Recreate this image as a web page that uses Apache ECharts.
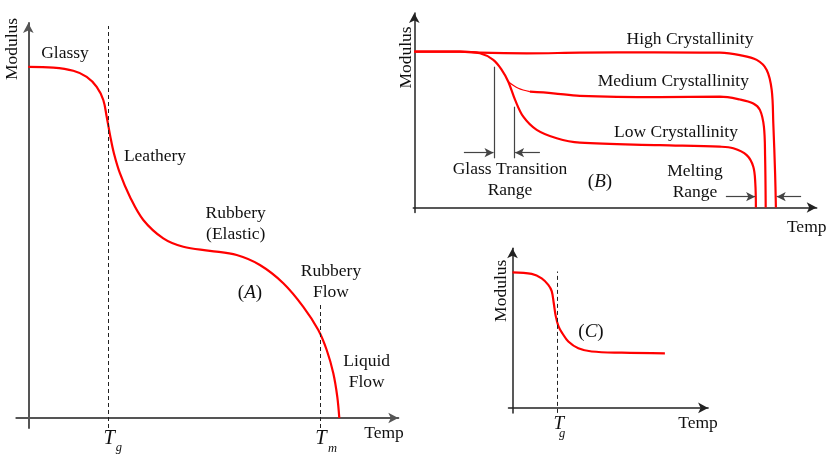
<!DOCTYPE html>
<html>
<head>
<meta charset="utf-8">
<script src="https://cdn.jsdelivr.net/npm/echarts@6/dist/echarts.min.js"></script>
<style>
  html, body { margin: 0; padding: 0; background: #fff; }
  #chart { width: 828px; height: 454px; }
</style>
</head>
<body>
<div id="chart"></div>
<script>
// (A) modulus vs temperature of an amorphous polymer (relative units)
const tempA    = [0, 6.25, 11.25, 14.6, 17.1, 18.75, 19.6, 20.5, 21.4, 22.9, 25.4, 28.75, 33.75, 38.75, 45.4, 52.1, 57.9, 63.75, 68.75, 72.5, 74.6, 76.25, 77.25, 77.75];
const modulusA = [87.8, 87.6, 86.8, 85.3, 82.8, 79.5, 75.3, 70.4, 66.2, 61.2, 55.3, 49.5, 44.9, 42.8, 41.8, 40.75, 38.25, 33.7, 27.8, 22.0, 17.0, 11.2, 5.3, 0];
const TgA = 20;
const TmA = 72.9;

// (B) effect of crystallinity
const tempHigh    = [0, 11.4, 16.4, 28.1, 41.4, 60, 76.4, 81.4, 85.6, 88.1, 89.35, 89.75, 90.2, 90.4];
const modulusHigh = [38.95, 38.95, 38.7, 38.55, 38.7, 38.8, 38.7, 38.1, 36.9, 34.4, 29.4, 21.05, 8.55, 0];
const tempMedium    = [23.5, 26, 28.9, 34.75, 41.4, 61.4, 76.4, 81.4, 84.75, 86.4, 87.4, 87.7, 87.85];
const modulusMedium = [31.45, 29.8, 28.95, 28.55, 27.9, 27.6, 27.7, 27.0, 26.0, 24.4, 20.2, 12.7, 0];
const tempLow    = [0, 11.4, 16.4, 19.75, 21.85, 23.5, 25.2, 27.25, 30.6, 35.6, 41.4, 61.4, 76.4, 79.75, 83.1, 84.75, 85.25, 85.4];
const modulusLow = [38.95, 38.95, 38.55, 36.9, 34.4, 31.45, 26.9, 22.7, 19.4, 17.3, 16.2, 15.6, 15.2, 14.8, 13.1, 10.2, 6.05, 0];
const glassRange   = [20, 25];      // glass transition range bounds
const meltingRange = [85.4, 90.4];  // melting range bounds

// (C) cross-linked polymer
const tempC    = [0, 4.8, 7.3, 8.95, 9.8, 10.3, 10.8, 11.5, 12.5, 13.95, 16.45, 19.8, 27.3, 38.1];
const modulusC = [33.9, 33.5, 32.4, 30.75, 29.2, 26.3, 23.0, 20.4, 18.6, 16.6, 14.9, 14.1, 13.8, 13.65];
const TgC = 11.3;

const FONT = '"Liberation Serif","Times New Roman",serif';
const RED = '#ff0000';
const zip = (xs, ys) => xs.map((x, i) => [x, ys[i]]);

function xAxisFor(gridIndex, min, max, color, width) {
  return {
    type: 'value', gridIndex, min, max,
    splitLine: { show: false },
    axisTick: { show: false },
    axisLabel: { show: false },
    axisLine: { onZero: true, symbol: ['none', 'arrow'], symbolSize: [8, 10],
                lineStyle: { color, width } }
  };
}
const yAxisFor = xAxisFor;

function curve(name, xi, data, width) {
  return {
    name, type: 'line', xAxisIndex: xi, yAxisIndex: xi,
    data, smooth: 0.35, symbol: 'none', clip: false,
    lineStyle: { color: RED, width: width }
  };
}

const dash = { type: [4, 3], color: '#222', width: 1 };
const guide = { color: '#444', width: 1.2, type: 'solid' };

function arrowLine(x0, x1, y) {
  return [{ coord: [x0, y], symbol: 'none' }, { coord: [x1, y], symbol: 'arrow', symbolSize: [7, 9] }];
}
function vLine(x, y0, y1) {
  return [{ coord: [x, y0], symbol: 'none' }, { coord: [x, y1], symbol: 'none' }];
}

function text(str, x, y, opts) {
  opts = opts || {};
  return {
    type: 'text', x, y, silent: true, rotation: opts.rotation || 0,
    style: {
      text: str, fill: '#111', fontFamily: FONT, fontSize: opts.size || 17.5,
      fontStyle: opts.italic ? 'italic' : 'normal',
      align: opts.align || 'center', verticalAlign: 'middle', lineHeight: 21
    }
  };
}
function tagged(letter, x, y) {
  return {
    type: 'text', x, y, silent: true,
    style: {
      text: '{p|(}{a|' + letter + '}{p|)}', align: 'center', verticalAlign: 'middle',
      rich: {
        p: { fontFamily: FONT, fontSize: 19, fill: '#111' },
        a: { fontFamily: FONT, fontSize: 19, fontStyle: 'italic', fill: '#111' }
      }
    }
  };
}

const option = {
  animation: false,
  backgroundColor: '#fff',
  grid: [
    { left: 16.3, top: 23, width: 382, height: 405, outerBoundsMode: 'none' },
    { left: 413.3, top: 13, width: 403.4, height: 199.5, outerBoundsMode: 'none' },
    { left: 508.5, top: 248.3, width: 199.6, height: 164.6, outerBoundsMode: 'none' }
  ],
  xAxis: [
    xAxisFor(0, -3, 92.5, '#555', 2),
    xAxisFor(1, -0.25, 100.6, '#222', 1.5),
    xAxisFor(2, -1, 48.9, '#222', 1.5)
  ],
  yAxis: [
    yAxisFor(0, -2.5, 98.75, '#555', 2),
    yAxisFor(1, -1.25, 48.625, '#222', 1.5),
    yAxisFor(2, -1.25, 39.9, '#222', 1.5)
  ],
  series: [
    Object.assign(curve('A', 0, zip(tempA, modulusA), 2.2), {
      markLine: {
        silent: true, symbol: 'none', label: { show: false }, lineStyle: dash,
        data: [vLine(TgA, -2.5, 98), vLine(TmA, -2.5, 29)]
      }
    }),
    curve('High Crystallinity', 1, zip(tempHigh, modulusHigh), 2.2),
    curve('Medium Crystallinity', 1, zip(tempMedium, modulusMedium).slice(0, 3), 1.2),
    curve('Medium Crystallinity', 1, zip(tempMedium, modulusMedium).slice(2), 2.2),
    Object.assign(curve('Low Crystallinity', 1, zip(tempLow, modulusLow), 2.2), {
      markLine: {
        silent: true, label: { show: false }, lineStyle: guide,
        data: [
          vLine(glassRange[0], 12.3, 35.2),
          vLine(glassRange[1], 12.3, 25.2),
          arrowLine(12.4, glassRange[0] - 0.2, 13.7),
          arrowLine(31.4, glassRange[1] + 0.2, 13.7),
          arrowLine(77.9, meltingRange[0] - 0.2, 2.7),
          arrowLine(96.7, meltingRange[1] + 0.2, 2.7)
        ]
      }
    }),
    Object.assign(curve('C', 2, zip(tempC, modulusC), 2.2), {
      markLine: {
        silent: true, symbol: 'none', label: { show: false }, lineStyle: dash,
        data: [vLine(TgC, -1.25, 34.1)]
      }
    })
  ]
};

const chart = echarts.init(document.getElementById('chart'), null, { renderer: 'canvas' });
chart.setOption(option);

// T_g / T_m labels placed under their temperatures on each x axis
function tempMark(axis, value, sub, tSize, dySub, dxSub, dyT) {
  const x = chart.convertToPixel({ xAxisIndex: axis }, value);
  const y0 = chart.convertToPixel({ yAxisIndex: axis }, 0);
  return [
    text('T', x + 1, y0 + dyT, { italic: true, size: tSize }),
    text(sub, x + dxSub, y0 + dySub, { italic: true, size: 12.5 })
  ];
}

chart.setOption({
  graphic: [].concat(
    // (A)
    text('Modulus', 12.3, 49, { rotation: Math.PI / 2 }),
    text('Glassy', 65, 53.3),
    text('Leathery', 155, 156.7),
    text('Rubbery\n(Elastic)', 235.7, 224.2),
    tagged('A', 250, 292.7),
    text('Rubbery\nFlow', 331, 282.2),
    text('Liquid\nFlow', 366.7, 372.2),
    text('Temp', 384, 433.3),
    tempMark(0, TgA, 'g', 20.5, 29.5, 10.5, 21),
    tempMark(0, TmA, 'm', 20.5, 31, 12.5, 21),
    // (B)
    text('Modulus', 406, 57.5, { rotation: Math.PI / 2 }),
    text('High Crystallinity', 690, 39.3),
    text('Medium Crystallinity', 673.3, 81.7),
    text('Low Crystallinity', 676, 132.7),
    text('Glass Transition\nRange', 510, 180.3),
    tagged('B', 600, 181.7),
    text('Melting\nRange', 695, 182.2),
    text('Temp', 806.7, 227.7),
    // (C)
    text('Modulus', 501.7, 290.8, { rotation: Math.PI / 2 }),
    tagged('C', 591, 331.7),
    text('Temp', 698, 423),
    tempMark(2, TgC, 'g', 19, 26, 4.5, 16.5)
  )
});
</script>
</body>
</html>
